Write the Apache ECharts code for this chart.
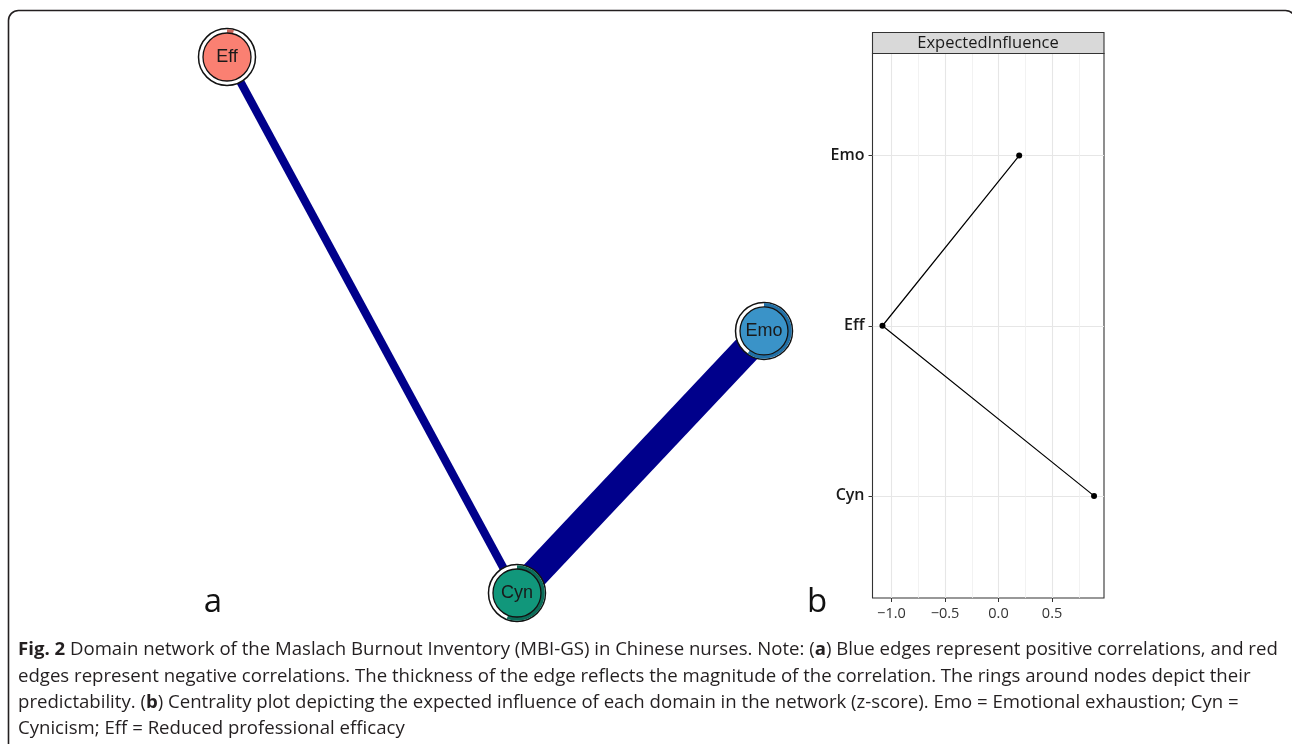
<!DOCTYPE html>
<html>
<head>
<meta charset="utf-8">
<script src="https://cdn.jsdelivr.net/npm/echarts@6/dist/echarts.min.js"></script>
<style>
html,body{margin:0;padding:0;background:#fff;}
#chart{width:1292px;height:744px;}
</style>
</head>
<body>
<div id="chart"></div>
<script>
// ---- Network (panel a) ----
const nodeNames = ['Eff', 'Emo', 'Cyn'];
const nodeLayoutX = [-1, 1, 0.08];
const nodeLayoutY = [1, -0.022, -1];
const predictability = [0.04, 0.6, 0.56];
const nodeFill = ['#FA8072', '#3A93C8', '#11977B'];
const nodeRing = ['#C9665B', '#2170A6', '#0B6D59'];
const edgeFrom = ['Eff', 'Cyn'];
const edgeTo = ['Cyn', 'Emo'];
const edgeWeight = [0.16, 0.56];

// ---- Centrality (panel b) ----
const centralityCats = ['Cyn', 'Eff', 'Emo'];
const expectedInfluence = [0.892, -1.084, 0.193];
const xMajorTicks = [-1.0, -0.5, 0.0, 0.5];
const xMinorTicks = [-1.0, -0.75, -0.5, -0.25, 0.0, 0.25, 0.5, 0.75];

const captionLines = [
  '{b|Fig. 2} Domain network of the Maslach Burnout Inventory (MBI-GS) in Chinese nurses. Note: ({b|a}) Blue edges represent positive correlations, and red',
  'edges represent negative correlations. The thickness of the edge reflects the magnitude of the correlation. The rings around nodes depict their',
  'predictability. ({b|b}) Centrality plot depicting the expected influence of each domain in the network (z-score). Emo = Emotional exhaustion; Cyn =',
  'Cynicism; Eff = Reduced professional efficacy'
];

const idx = n => nodeNames.indexOf(n);
const edgeData = edgeFrom.map((f, i) => [nodeLayoutX[idx(f)], nodeLayoutY[idx(f)], nodeLayoutX[idx(edgeTo[i])], nodeLayoutY[idx(edgeTo[i])], edgeWeight[i]]);
const nodeData = nodeNames.map((n, i) => [nodeLayoutX[i], nodeLayoutY[i], predictability[i], i]);
const lineData = centralityCats.map((c, i) => [expectedInfluence[i], i + 1]).reverse();

const chart = echarts.init(document.getElementById('chart'), null, {renderer: 'canvas'});
const capFont = '"Open Sans", sans-serif';
const capSize = 18.6;

const graphic = [
  {type: 'rect', shape: {x: 8.5, y: 10.5, width: 1287, height: 800, r: 10}, style: {fill: 'none', stroke: '#231F20', lineWidth: 1.6}, z: 0},
  {type: 'rect', shape: {x: 872.5, y: 32.5, width: 231.5, height: 21}, style: {fill: '#D9D9D9', stroke: '#333333', lineWidth: 1.1}, z: 10},
  {type: 'text', x: 988, y: 43.5, style: {text: 'ExpectedInfluence', font: '16.5px ' + capFont, fill: '#1A1A1A', align: 'center', verticalAlign: 'middle'}, z: 11},
  {type: 'text', x: 213, y: 603, style: {text: 'a', font: '33px ' + capFont, fill: '#111', align: 'center', verticalAlign: 'middle'}, z: 11},
  {type: 'text', x: 817, y: 603, style: {text: 'b', font: '33px ' + capFont, fill: '#111', align: 'center', verticalAlign: 'middle'}, z: 11}
];
const capY = [650, 677, 703, 729];
captionLines.forEach((t, i) => {
  graphic.push({type: 'text', x: 18, y: capY[i], z: 11, style: {
    text: t, font: capSize + 'px ' + capFont, fill: '#231F20', align: 'left', verticalAlign: 'middle',
    rich: {b: {fontWeight: 'bold', fontSize: capSize, fontFamily: capFont, fill: '#231F20'}}
  }});
});

const option = {
  animation: false,
  backgroundColor: '#ffffff',
  graphic: graphic,
  grid: [
    {left: 227, top: 57, width: 537, height: 536, show: false},
    {left: 872.5, top: 53.5, width: 231.5, height: 544.5, show: true, borderColor: '#333333', borderWidth: 1.1, backgroundColor: 'transparent'}
  ],
  xAxis: [
    {gridIndex: 0, type: 'value', min: -1, max: 1, show: false},
    {gridIndex: 1, type: 'value', min: -1.177, max: 0.985,
      axisLine: {show: false, onZero: false}, axisTick: {show: false, customValues: xMinorTicks},
      axisLabel: {show: false, customValues: xMinorTicks},
      splitLine: {show: true, lineStyle: {color: '#EFEFEF', width: 0.8}}},
    {gridIndex: 1, type: 'value', min: -1.177, max: 0.985, position: 'bottom',
      axisLine: {show: false, onZero: false},
      axisTick: {show: true, customValues: xMajorTicks, length: 4, lineStyle: {color: '#333', width: 1}},
      axisLabel: {show: true, customValues: xMajorTicks, margin: 8, fontSize: 14.5, fontFamily: capFont, color: '#333',
        formatter: v => (v < 0 ? '\u2212' : '') + Math.abs(v).toFixed(1)},
      splitLine: {show: true, lineStyle: {color: '#E6E6E6', width: 1.1}}}
  ],
  yAxis: [
    {gridIndex: 0, type: 'value', min: -1, max: 1, show: false},
    {gridIndex: 1, type: 'value', min: 0.4, max: 3.6, position: 'left',
      axisLine: {show: false, onZero: false},
      axisTick: {show: true, customValues: [1, 2, 3], length: 4, lineStyle: {color: '#333', width: 1}},
      axisLabel: {show: true, customValues: [1, 2, 3], margin: 8, fontSize: 16, fontWeight: 600, fontFamily: capFont, color: '#1A1A1A',
        formatter: v => centralityCats[Math.round(v) - 1]},
      splitLine: {show: true, lineStyle: {color: '#E6E6E6', width: 1.1}}}
  ],
  series: [
    {
      type: 'custom', xAxisIndex: 0, yAxisIndex: 0, z: 2, clip: false,
      data: edgeData,
      encode: {x: [0, 2], y: [1, 3]},
      renderItem: (params, api) => {
        const p1 = api.coord([api.value(0), api.value(1)]);
        const p2 = api.coord([api.value(2), api.value(3)]);
        return {type: 'line', shape: {x1: p1[0], y1: p1[1], x2: p2[0], y2: p2[1]},
          style: {stroke: '#00008B', lineWidth: api.value(4) * 51, lineCap: 'butt'}};
      }
    },
    {
      type: 'custom', xAxisIndex: 0, yAxisIndex: 0, z: 3, clip: false,
      data: nodeData,
      encode: {x: 0, y: 1},
      renderItem: (params, api) => {
        const c = api.coord([api.value(0), api.value(1)]);
        const p = api.value(2);
        const i = api.value(3);
        const start = -Math.PI / 2;
        return {type: 'group', children: [
          {type: 'circle', shape: {cx: c[0], cy: c[1], r: 28.5}, style: {fill: '#fff', stroke: '#111', lineWidth: 1.5}},
          {type: 'sector', shape: {cx: c[0], cy: c[1], r0: 24, r: 27.8, startAngle: start, endAngle: start + 2 * Math.PI * p, clockwise: true},
            style: {fill: nodeRing[i], stroke: 'none'}},
          {type: 'circle', shape: {cx: c[0], cy: c[1], r: 24}, style: {fill: nodeFill[i], stroke: '#111', lineWidth: 1.3}},
          {type: 'text', x: c[0], y: c[1], style: {text: nodeNames[i], font: '18px "Liberation Sans", Arial, sans-serif', fill: '#1A1A1A', align: 'center', verticalAlign: 'middle'}}
        ]};
      }
    },
    {
      type: 'line', xAxisIndex: 2, yAxisIndex: 1, z: 5,
      data: lineData,
      symbol: 'circle', symbolSize: 6,
      itemStyle: {color: '#000'},
      lineStyle: {color: '#000', width: 1.2}
    }
  ]
};
chart.setOption(option);
</script>
</body>
</html>
